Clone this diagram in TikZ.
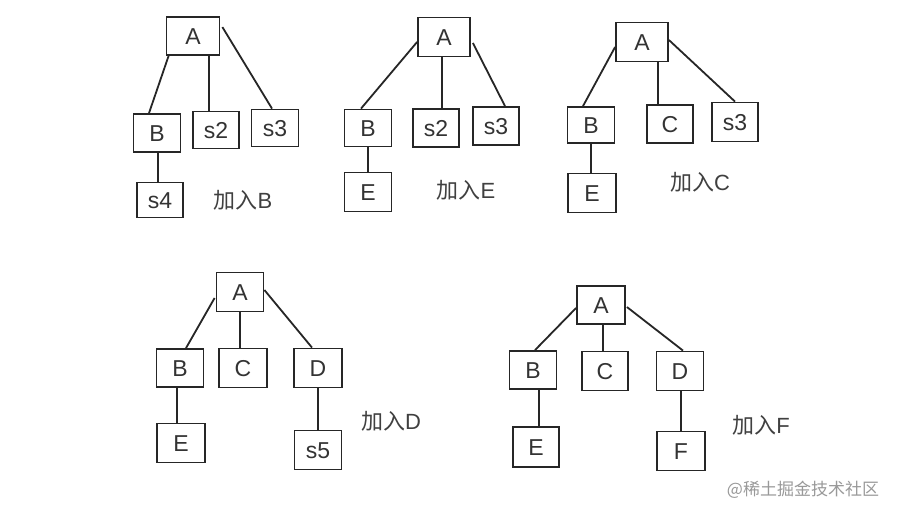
\documentclass[tikz,border=0pt]{standalone}
\usepackage{fontspec}
\setmainfont{Liberation Sans}
\newfontfamily\cjk{Noto Sans CJK SC}
\usetikzlibrary{calc}
\begin{document}
\begin{tikzpicture}[x=1pt,y=-1pt,
  box/.style={draw=black!85,line width=1.8pt,inner sep=0pt,minimum width=47pt,minimum height=38pt,
    font=\fontsize{23}{25}\selectfont,text=black!80,text height=16.5pt,text depth=0pt},
  lbl/.style={inner sep=0pt,font=\fontsize{22}{24}\selectfont,text=black!75},
  edge/.style={draw=black!85,line width=1.8pt}]
\useasboundingbox[fill=white] (0,0) rectangle (900,516);
% ---- tree 1
\node[box,minimum width=53pt] (A1) at (193,36) {A};
\node[box] (B1) at (157,133) {B};
\node[box,minimum width=46pt,minimum height=37pt] (s21) at (216,130) {s2};
\node[box,minimum height=37pt] (s31) at (275,128) {s3};
\node[box,minimum width=46pt,minimum height=35pt] (s41) at (160,200) {s4};
\node[lbl] (L1) at (243,200) {{\cjk 加入}B};
\draw[edge] ($(A1.south west)+(3,0)$) -- ($(B1.north)+(-8,0)$);
\draw[edge] ($(A1.south)+(16,0)$) -- ($(s21.north)+(-7,0)$);
\draw[edge] ($(A1.north east)+(2,11)$) -- ($(s31.north)+(-3,0)$);
\draw[edge] ($(B1.south)+(1,0)$) -- ($(s41.north)+(-2,0)$);
% ---- tree 2
\node[box,minimum width=52pt,minimum height=39pt] (A2) at (444,37) {A};
\node[box,minimum height=37pt] (B2) at (368,128) {B};
\node[box,minimum width=46pt] (s22) at (436,128) {s2};
\node[box,minimum width=46pt] (s32) at (496,126) {s3};
\node[box,minimum height=39pt] (E2) at (368,192) {E};
\node[lbl] (L2) at (466,190) {{\cjk 加入}E};
\draw[edge] ($(A2.west)+(0,5)$) -- ($(B2.north)+(-7,0)$);
\draw[edge] ($(A2.south)+(-2,0)$) -- ($(s22.north)+(6,0)$);
\draw[edge] ($(A2.east)+(2,6)$) -- ($(s32.north)+(9,0)$);
\draw[edge] (B2.south) -- (E2.north);
% ---- tree 3
\node[box,minimum width=52pt,minimum height=39pt] (A3) at (642,42) {A};
\node[box,minimum height=36pt] (B3) at (591,125) {B};
\node[box,minimum width=46pt] (C3) at (670,124) {C};
\node[box,minimum width=46pt,minimum height=39pt] (s33) at (735,122) {s3};
\node[box,minimum width=48pt,minimum height=39pt] (E3) at (592,193) {E};
\node[lbl] (L3) at (700,182) {{\cjk 加入}C};
\draw[edge] ($(A3.west)+(0,5)$) -- ($(B3.north)+(-8,0)$);
\draw[edge] ($(A3.south)+(16,0)$) -- ($(C3.north)+(-12,0)$);
\draw[edge] ($(A3.east)+(0,-2)$) -- (s33.north);
\draw[edge] (B3.south) -- ($(E3.north)+(-1,0)$);
% ---- tree 4
\node[box,minimum height=39pt] (A4) at (240,292) {A};
\node[box] (B4) at (180,368) {B};
\node[box,minimum width=48pt,minimum height=39pt] (C4) at (243,368) {C};
\node[box,minimum width=48pt,minimum height=39pt] (D4) at (318,368) {D};
\node[box,minimum width=48pt,minimum height=39pt] (E4) at (181,443) {E};
\node[box,minimum height=39pt] (s54) at (318,450) {s5};
\node[lbl] (L4) at (391,421) {{\cjk 加入}D};
\draw[edge] ($(A4.west)+(-1,6)$) -- ($(B4.north)+(6,0)$);
\draw[edge] (A4.south) -- ($(C4.north)+(-3,0)$);
\draw[edge] ($(A4.east)+(0,-2)$) -- ($(D4.north)+(-6,0)$);
\draw[edge] ($(B4.south)+(-3,0)$) -- ($(E4.north)+(-4,0)$);
\draw[edge] (D4.south) -- (s54.north);
% ---- tree 5
\node[box,minimum width=48pt] (A5) at (601,305) {A};
\node[box] (B5) at (533,370) {B};
\node[box,minimum width=46pt,minimum height=39pt] (C5) at (605,371) {C};
\node[box,minimum height=39pt] (D5) at (680,371) {D};
\node[box,minimum width=46pt,minimum height=40pt] (E5) at (536,447) {E};
\node[box,minimum width=48pt,minimum height=39pt] (F5) at (681,451) {F};
\node[lbl] (L5) at (761,425) {{\cjk 加入}F};
\draw[edge] ($(A5.west)+(0,3)$) -- ($(B5.north)+(2,0)$);
\draw[edge] ($(A5.south)+(2,0)$) -- ($(C5.north)+(-2,0)$);
\draw[edge] ($(A5.east)+(1,2)$) -- ($(D5.north)+(3,0)$);
\draw[edge] ($(B5.south)+(6,0)$) -- ($(E5.north)+(3,0)$);
\draw[edge] ($(D5.south)+(1,0)$) -- (F5.north);
% ---- watermark
\node[inner sep=0pt,font=\fontsize{17}{19}\selectfont\cjk,text=black!40] (wm) at (803,490) {@稀土掘金技术社区};
\end{tikzpicture}
\end{document}
